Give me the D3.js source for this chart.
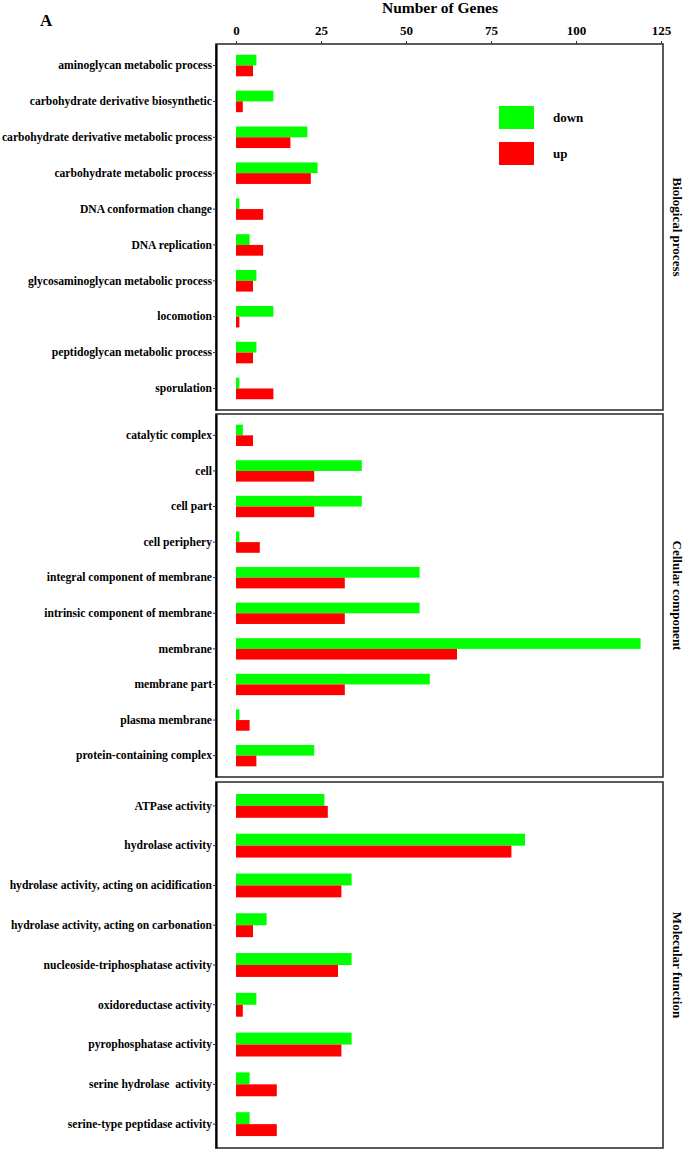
<!DOCTYPE html>
<html><head><meta charset="utf-8">
<script src="https://cdn.jsdelivr.net/npm/d3@7"></script>
<style>body{margin:0;background:#fff}svg{display:block}text{font-family:"Liberation Serif","Times New Roman",serif;font-weight:bold;}</style>
</head><body>
<script>
const xTicks = [0, 25, 50, 75, 100, 125];
const seriesNames = ["down", "up"];
const seriesColors = ["#00ff00", "#ff0000"];

const bpCategories = ["aminoglycan metabolic process","carbohydrate derivative biosynthetic","carbohydrate derivative metabolic process","carbohydrate metabolic process","DNA conformation change","DNA replication","glycosaminoglycan metabolic process","locomotion","peptidoglycan metabolic process","sporulation"];
const bpDown = [6, 11, 21, 24, 1, 4, 6, 11, 6, 1];
const bpUp   = [5, 2, 16, 22, 8, 8, 5, 1, 5, 11];

const ccCategories = ["catalytic complex","cell","cell part","cell periphery","integral component of membrane","intrinsic component of membrane","membrane","membrane part","plasma membrane","protein-containing complex"];
const ccDown = [2, 37, 37, 1, 54, 54, 119, 57, 1, 23];
const ccUp   = [5, 23, 23, 7, 32, 32, 65, 32, 4, 6];

const mfCategories = ["ATPase activity","hydrolase activity","hydrolase activity, acting on acidification","hydrolase activity, acting on carbonation","nucleoside-triphosphatase activity","oxidoreductase activity","pyrophosphatase activity","serine hydrolase  activity","serine-type peptidase activity"];
const mfDown = [26, 85, 34, 9, 34, 6, 34, 4, 4];
const mfUp   = [27, 81, 31, 5, 30, 2, 31, 12, 12];

const panels = [
  {name: "Biological process", cats: bpCategories, down: bpDown, up: bpUp, y0: 44, y1: 410},
  {name: "Cellular component", cats: ccCategories, down: ccDown, up: ccUp, y0: 414, y1: 777},
  {name: "Molecular function", cats: mfCategories, down: mfDown, up: mfUp, y0: 782, y1: 1148}
];

const W = 685, H = 1150;
const frameL = 216, frameR = 663;
const svg = d3.select("body").append("svg").attr("width", W).attr("height", H);

const x = d3.scaleLinear().domain([0, 125]).range([236, 661]);

// Top axis
const xAxis = d3.axisTop(x).tickValues(xTicks).tickSize(3).tickPadding(6);
const gx = svg.append("g").attr("transform", `translate(0,${panels[0].y0})`).call(xAxis);
gx.select(".domain").remove();
gx.selectAll(".tick line").attr("stroke", "#333");
gx.selectAll(".tick text").attr("font-size", 13).attr("fill", "#000")
  .style("font-family", '"Liberation Serif",serif').style("font-weight", "bold");

svg.append("text").attr("x", 440).attr("y", 13).attr("text-anchor", "middle")
  .attr("font-size", 15.5).text("Number of Genes");
svg.append("text").attr("x", 40).attr("y", 26).attr("font-size", 17).text("A");

panels.forEach(p => {
  const y = d3.scaleBand().domain(p.cats).range([p.y0, p.y1]).paddingInner(0.4).paddingOuter(0.3);
  const sub = d3.scaleBand().domain(seriesNames).range([0, y.bandwidth()]);
  const g = svg.append("g");

  // frame
  g.append("rect").attr("x", frameL).attr("y", p.y0).attr("width", frameR - frameL).attr("height", p.y1 - p.y0)
    .attr("fill", "none").attr("stroke", "#333").attr("stroke-width", 1.6);

  const yAxis = d3.axisLeft(y).tickSize(3).tickSizeOuter(0).tickPadding(1);
  const gy = g.append("g").attr("transform", `translate(${frameL},0)`).call(yAxis);
  gy.select(".domain").attr("stroke", "#000").attr("stroke-width", 2.2);
  gy.selectAll(".tick line").attr("stroke", "#333");
  gy.selectAll(".tick text").attr("font-size", 11.6).attr("fill", "#000")
    .style("font-family", '"Liberation Serif",serif').style("font-weight", "bold").style("white-space", "pre");

  const rows = p.cats.map((c, i) => ({cat: c, vals: [p.down[i], p.up[i]]}));
  const rg = g.selectAll("g.row").data(rows).join("g").attr("class", "row")
    .attr("transform", d => `translate(0,${y(d.cat)})`);
  rg.selectAll("rect").data(d => d.vals.map((v, k) => ({v, k})))
    .join("rect")
    .attr("x", x(0))
    .attr("y", d => sub(seriesNames[d.k]))
    .attr("width", d => x(d.v) - x(0))
    .attr("height", sub.bandwidth())
    .attr("fill", d => seriesColors[d.k]);

  const cy = (p.y0 + p.y1) / 2;
  g.append("text").attr("transform", `translate(673,${cy}) rotate(90)`)
    .attr("text-anchor", "middle").attr("font-size", 13).text(p.name);
});

// legend
const leg = svg.append("g");
seriesNames.forEach((s, i) => {
  leg.append("rect").attr("x", 499).attr("y", 106 + i * 36).attr("width", 35).attr("height", 23).attr("fill", seriesColors[i]);
  leg.append("text").attr("x", 553).attr("y", 122 + i * 36).attr("font-size", 13).text(s);
});
</script>
</body></html>
